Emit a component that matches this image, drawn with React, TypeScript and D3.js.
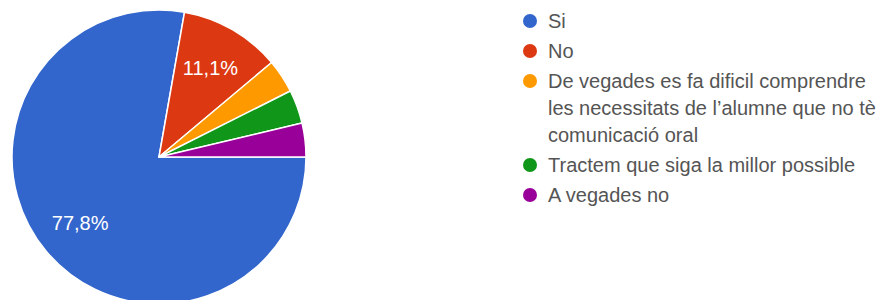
import { useRef, useEffect } from 'react';
import * as d3 from 'd3';

const categories = [
  'Si',
  'No',
  'De vegades es fa dificil comprendre les necessitats de l\u2019alumne que no tè comunicació oral',
  'Tractem que siga la millor possible',
  'A vegades no',
];
const counts = [21, 3, 1, 1, 1];
const colors = ['#3366cc', '#dc3912', '#ff9900', '#109618', '#990099'];

const WIDTH = 893;
const HEIGHT = 300;

export default function App() {
  const svgRef = useRef<SVGSVGElement>(null);

  useEffect(() => {
    if (!svgRef.current) return;
    const svg = d3.select(svgRef.current);
    svg.selectAll('*').remove();

    const cx = 159;
    const cy = 157;
    const radius = 147;
    const total = d3.sum(counts);
    const data = categories.map((c, i) => ({ label: c, count: counts[i], color: colors[i] }));

    const pie = d3.pie<any>()
      .value(d => d.count)
      .sort(null)
      .startAngle(Math.PI / 2)
      .endAngle(Math.PI / 2 + Math.PI * 2);

    const arc = d3.arc<any>().innerRadius(0).outerRadius(radius);
    const labelArc = d3.arc<any>().innerRadius(radius * 0.7).outerRadius(radius * 0.7);

    const g = svg.append('g').attr('transform', `translate(${cx},${cy})`);
    const arcs = pie(data);

    g.selectAll('path')
      .data(arcs)
      .enter()
      .append('path')
      .attr('d', arc as any)
      .attr('fill', d => d.data.color)
      .attr('stroke', '#fff')
      .attr('stroke-width', 1.5)
      .attr('stroke-linejoin', 'round');

    // percentage labels only where the slice is big enough
    g.selectAll('text.pct')
      .data(arcs.filter(d => d.data.count / total > 0.05))
      .enter()
      .append('text')
      .attr('class', 'pct')
      .attr('transform', d => `translate(${labelArc.centroid(d)})`)
      .attr('text-anchor', 'middle')
      .attr('dy', '0.35em')
      .attr('fill', '#fff')
      .style('font-family', '"Liberation Sans", Arial, sans-serif')
      .style('font-size', '20px')
      .text(d => ((d.data.count / total) * 100).toFixed(1).replace('.', ',') + '%');

    // legend
    const lx = 530;
    const tx = 548;
    const maxW = WIDTH - tx - 4;
    const itemGap = 30;
    const lineGap = 27;
    let y = 21;

    const legend = svg.append('g');
    data.forEach(d => {
      legend.append('circle')
        .attr('cx', lx)
        .attr('cy', y)
        .attr('r', 7)
        .attr('fill', d.color);

      const text = legend.append('text')
        .attr('fill', '#555')
        .style('font-family', '"Liberation Sans", Arial, sans-serif')
        .style('font-size', '20px');

      const words = d.label.split(' ');
      let line: string[] = [];
      let lines = 0;
      const newSpan = () => text.append('tspan')
        .attr('x', tx)
        .attr('y', y + lines * lineGap)
        .attr('dy', '0.35em');
      let tspan = newSpan();
      words.forEach(w => {
        line.push(w);
        tspan.text(line.join(' '));
        if ((tspan.node() as SVGTSpanElement).getComputedTextLength() > maxW && line.length > 1) {
          line.pop();
          tspan.text(line.join(' '));
          line = [w];
          lines += 1;
          tspan = newSpan().text(w);
        }
      });
      y += lines * lineGap + itemGap;
    });
  }, []);

  return (
    <svg
      ref={svgRef}
      width={WIDTH}
      height={HEIGHT}
      style={{ position: 'absolute', left: 0, top: 0, background: '#fff', display: 'block' }}
    />
  );
}
